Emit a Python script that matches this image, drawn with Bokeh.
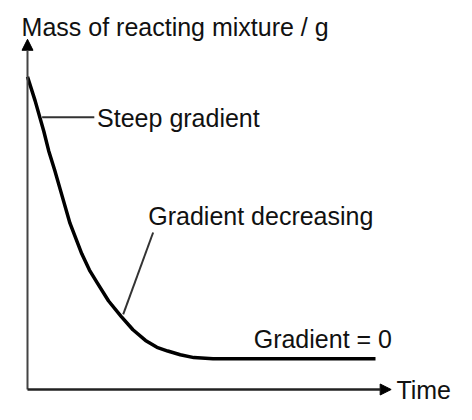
from bokeh.plotting import figure
from bokeh.models import Range1d, Arrow, NormalHead, ColumnDataSource
from bokeh.core.properties import value
from bokeh.embed import file_html
from bokeh.resources import INLINE

# Curve data (arbitrary units)
time = [0.0, 0.22, 0.47, 0.61, 0.78, 0.94, 1.22, 1.56, 1.78, 2.0, 2.33, 2.69,
        3.03, 3.39, 3.72, 4.03, 4.39, 4.78, 5.33, 10.0]
mass = [10.0, 9.23, 8.25, 7.63, 7.02, 6.4, 5.32, 4.34, 3.82, 3.42, 2.83, 2.34,
        1.91, 1.57, 1.35, 1.23, 1.11, 1.02, 0.98, 0.98]

# Axis extents
axis_x_end = 10.45
axis_y_end = 11.2

# Leader lines
steep_leader_t = [0.42, 1.92]
steep_leader_m = [8.71, 8.71]
decr_leader_t = [2.75, 3.61]
decr_leader_m = [2.4, 5.02]

# Labels
label_text = ["Steep gradient", "Gradient decreasing", "Gradient = 0", "Time"]
label_t = [2.0, 3.47, 6.5, 10.6]
label_m = [8.68, 5.54, 1.63, 0.0]
title_text = ["Mass of reacting mixture / g"]
title_t = [-0.17]
title_m = [11.6]

FONT = "Liberation Sans"

# 1 time unit = 34.8 px, 1 mass unit = 31.27 px
p = figure(width=456, height=404, output_backend="svg", toolbar_location=None,
           x_range=Range1d(-27 / 34.8, 429 / 34.8),
           y_range=Range1d(-15 / 31.27, 389 / 31.27),
           min_border=0, outline_line_color=None)
p.axis.visible = False
p.grid.visible = False
p.background_fill_color = "white"

# axes with arrowheads
p.add_layout(Arrow(x_start=0, y_start=0, x_end=0, y_end=axis_y_end,
                   line_color="#444444", line_width=2,
                   end=NormalHead(size=11, fill_color="black", line_color="black")))
p.add_layout(Arrow(x_start=0, y_start=0, x_end=axis_x_end, y_end=0,
                   line_color="#222222", line_width=2.5,
                   end=NormalHead(size=11, fill_color="black", line_color="black")))

# curve
p.line(time, mass, line_color="black", line_width=3.5, line_join="round")

# leader lines
p.line(steep_leader_t, steep_leader_m, line_color="#333333", line_width=2)
p.line(decr_leader_t, decr_leader_m, line_color="#333333", line_width=2)

src = ColumnDataSource(dict(x=label_t, y=label_m, t=label_text))
p.text(x="x", y="y", text="t", source=src, text_font=value(FONT),
       text_font_size="25px", text_align="left", text_baseline="middle",
       text_color="#111111")
p.text(x=title_t, y=title_m, text=title_text, text_font=value(FONT),
       text_font_size="25px", text_align="left", text_baseline="middle",
       text_color="#111111")

open("out.html", "w").write(file_html(p, INLINE))
